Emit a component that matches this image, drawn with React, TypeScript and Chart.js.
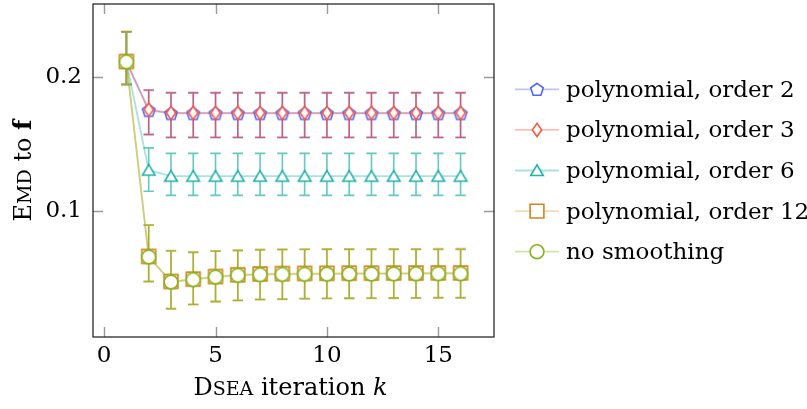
import React, { useEffect, useRef } from 'react';
import { Chart, registerables } from 'chart.js';

Chart.register(...registerables);

// ---------- data ----------
const iterations = [1, 2, 3, 4, 5, 6, 7, 8, 9, 10, 11, 12, 13, 14, 15, 16];

const seriesLabels = [
  'polynomial, order 2',
  'polynomial, order 3',
  'polynomial, order 6',
  'polynomial, order 12',
  'no smoothing',
];

const order2Mean = [0.2112, 0.1750, 0.1727, 0.1727, 0.1727, 0.1727, 0.1727, 0.1727, 0.1727, 0.1727, 0.1727, 0.1727, 0.1727, 0.1727, 0.1727, 0.1727];
const order2Upper = [0.2336, 0.1898, 0.1877, 0.1877, 0.1877, 0.1877, 0.1877, 0.1877, 0.1877, 0.1877, 0.1877, 0.1877, 0.1877, 0.1877, 0.1877, 0.1877];
const order2Lower = [0.1943, 0.1566, 0.1544, 0.1544, 0.1544, 0.1544, 0.1544, 0.1544, 0.1544, 0.1544, 0.1544, 0.1544, 0.1544, 0.1544, 0.1544, 0.1544];

const order3Mean = [0.2112, 0.1755, 0.1731, 0.1731, 0.1731, 0.1731, 0.1731, 0.1731, 0.1731, 0.1731, 0.1731, 0.1731, 0.1731, 0.1731, 0.1731, 0.1731];
const order3Upper = [0.2336, 0.1902, 0.1882, 0.1882, 0.1882, 0.1882, 0.1882, 0.1882, 0.1882, 0.1882, 0.1882, 0.1882, 0.1882, 0.1882, 0.1882, 0.1882];
const order3Lower = [0.1943, 0.1571, 0.1549, 0.1549, 0.1549, 0.1549, 0.1549, 0.1549, 0.1549, 0.1549, 0.1549, 0.1549, 0.1549, 0.1549, 0.1549, 0.1549];

const order6Mean = [0.2112, 0.1304, 0.1259, 0.1259, 0.1259, 0.1259, 0.1259, 0.1259, 0.1259, 0.1259, 0.1259, 0.1259, 0.1259, 0.1259, 0.1259, 0.1259];
const order6Upper = [0.2336, 0.1470, 0.1429, 0.1429, 0.1429, 0.1429, 0.1429, 0.1429, 0.1429, 0.1429, 0.1429, 0.1429, 0.1429, 0.1429, 0.1429, 0.1429];
const order6Lower = [0.1943, 0.1147, 0.1116, 0.1116, 0.1116, 0.1116, 0.1116, 0.1116, 0.1116, 0.1116, 0.1116, 0.1116, 0.1116, 0.1116, 0.1116, 0.1116];

const order12Mean = [0.2114, 0.0661, 0.0474, 0.0492, 0.0511, 0.0524, 0.0530, 0.0533, 0.0534, 0.0535, 0.0536, 0.0536, 0.0537, 0.0537, 0.0538, 0.0538];
const order12Upper = [0.2340, 0.0896, 0.0705, 0.0695, 0.0703, 0.0709, 0.0713, 0.0715, 0.0716, 0.0717, 0.0717, 0.0718, 0.0718, 0.0718, 0.0719, 0.0719];
const order12Lower = [0.1945, 0.0472, 0.0268, 0.0300, 0.0322, 0.0330, 0.0337, 0.0340, 0.0343, 0.0345, 0.0346, 0.0347, 0.0348, 0.0349, 0.0350, 0.0350];

const noSmoothMean = [0.2112, 0.0657, 0.0470, 0.0488, 0.0507, 0.0520, 0.0525, 0.0527, 0.0528, 0.0529, 0.0530, 0.0530, 0.0531, 0.0532, 0.0533, 0.0533];
const noSmoothUpper = [0.2336, 0.0893, 0.0701, 0.0690, 0.0699, 0.0704, 0.0709, 0.0711, 0.0712, 0.0712, 0.0712, 0.0712, 0.0712, 0.0712, 0.0712, 0.0712];
const noSmoothLower = [0.1943, 0.0475, 0.0272, 0.0304, 0.0326, 0.0334, 0.0341, 0.0343, 0.0347, 0.0349, 0.0350, 0.0351, 0.0352, 0.0353, 0.0354, 0.0354];

const seriesMeans = [order2Mean, order3Mean, order6Mean, order12Mean, noSmoothMean];
const seriesUppers = [order2Upper, order3Upper, order6Upper, order12Upper, noSmoothUpper];
const seriesLowers = [order2Lower, order3Lower, order6Lower, order12Lower, noSmoothLower];

const xTickValues = [0, 5, 10, 15];
const yTickValues = [0.1, 0.2];

// ---------- styles ----------
const FONT = "'DejaVu Serif', serif";
const FS = 23;

type Shape = 'pentagon' | 'diamond' | 'triangle' | 'square' | 'circle';
const seriesShapes: Shape[] = ['pentagon', 'diamond', 'triangle', 'square', 'circle'];
const markerColors = ['#4a66ff', '#ff553c', '#20b2aa', '#d7821a', '#84b81e'];
const lineColors = [
  'rgba(74,102,255,0.38)',
  'rgba(255,85,60,0.38)',
  'rgba(32,178,170,0.38)',
  'rgba(225,150,50,0.35)',
  'rgba(132,184,30,0.38)',
];
const errColors = [
  'rgba(110,130,255,0.45)',
  'rgba(200,70,95,0.8)',
  'rgba(32,178,170,0.7)',
  'rgba(225,160,80,0.7)',
  'rgba(150,175,30,0.8)',
];

function tracePath(ctx: CanvasRenderingContext2D, shape: Shape) {
  ctx.beginPath();
  if (shape === 'pentagon') {
    const r = 6.6;
    for (let k = 0; k < 5; k++) {
      const a = -Math.PI / 2 + (k * 2 * Math.PI) / 5;
      const px = r * Math.cos(a);
      const py = r * Math.sin(a) + 0.6;
      if (k === 0) ctx.moveTo(px, py);
      else ctx.lineTo(px, py);
    }
  } else if (shape === 'diamond') {
    ctx.moveTo(0, -6.6);
    ctx.lineTo(4.6, 0);
    ctx.lineTo(0, 6.6);
    ctx.lineTo(-4.6, 0);
  } else if (shape === 'triangle') {
    ctx.moveTo(0, -5.6);
    ctx.lineTo(6.3, 5.0);
    ctx.lineTo(-6.3, 5.0);
  } else if (shape === 'square') {
    ctx.rect(-6.9, -6.9, 13.8, 13.8);
  } else {
    ctx.arc(0, 0, 6.9, 0, Math.PI * 2);
  }
  ctx.closePath();
}

function drawMarker(ctx: CanvasRenderingContext2D, shape: Shape, x: number, y: number, color: string) {
  ctx.save();
  ctx.translate(x, y);
  tracePath(ctx, shape);
  ctx.fillStyle = '#ffffff';
  ctx.fill();
  ctx.lineWidth = 1.6;
  ctx.strokeStyle = color;
  ctx.lineJoin = 'miter';
  ctx.stroke();
  ctx.restore();
}

function makeMarkerImage(shape: Shape, color: string): HTMLCanvasElement {
  const c = document.createElement('canvas');
  c.width = 20;
  c.height = 20;
  const ctx = c.getContext('2d')!;
  drawMarker(ctx, shape, 10, 10, color);
  return c;
}

type Run = { text: string; font: string };

function drawRuns(ctx: CanvasRenderingContext2D, runs: Run[], cx: number, baseY: number) {
  let total = 0;
  const widths = runs.map((r) => {
    ctx.font = r.font;
    const w = ctx.measureText(r.text).width;
    total += w;
    return w;
  });
  let x = cx - total / 2;
  ctx.textAlign = 'left';
  ctx.textBaseline = 'alphabetic';
  runs.forEach((r, i) => {
    ctx.font = r.font;
    ctx.fillText(r.text, x, baseY);
    x += widths[i];
  });
}

const regular = `${FS}px ${FONT}`;
const smallCaps = `${Math.round(FS * 0.84)}px ${FONT}`;
const titleRegular = `${FS + 1}px ${FONT}`;
const xTitleRuns: Run[] = [
  { text: 'D', font: titleRegular },
  { text: 'SEA', font: smallCaps },
  { text: ' iteration ', font: titleRegular },
  { text: 'k', font: `italic ${FS + 1}px ${FONT}` },
];
const yTitleRuns: Run[] = [
  { text: 'E', font: titleRegular },
  { text: 'MD', font: smallCaps },
  { text: ' to ', font: titleRegular },
  { text: 'f', font: `bold ${FS + 1}px ${FONT}` },
];

const errorBarPlugin = {
  id: 'errorBars',
  beforeDatasetsDraw(chart: any) {
    const { ctx, scales } = chart;
    const xs = scales.x;
    const ys = scales.y;
    ctx.save();
    ctx.lineWidth = 1.6;
    seriesMeans.forEach((_, i) => {
      ctx.strokeStyle = errColors[i];
      iterations.forEach((it, j) => {
        const px = xs.getPixelForValue(it);
        const pu = ys.getPixelForValue(seriesUppers[i][j]);
        const pl = ys.getPixelForValue(seriesLowers[i][j]);
        ctx.beginPath();
        ctx.moveTo(px, pu);
        ctx.lineTo(px, pl);
        ctx.moveTo(px - 5.2, pu);
        ctx.lineTo(px + 5.2, pu);
        ctx.moveTo(px - 5.2, pl);
        ctx.lineTo(px + 5.2, pl);
        ctx.stroke();
      });
    });
    ctx.restore();
  },
};

const framePlugin = {
  id: 'frameTicks',
  afterDatasetsDraw(chart: any) {
    const { ctx, chartArea, scales } = chart;
    const { left, right, top, bottom } = chartArea;
    ctx.save();
    ctx.strokeStyle = '#9a9a9a';
    ctx.lineWidth = 1.4;
    const tl = 10;
    xTickValues.forEach((v) => {
      const px = Math.round(scales.x.getPixelForValue(v)) + 0.5;
      ctx.beginPath();
      ctx.moveTo(px, bottom);
      ctx.lineTo(px, bottom - tl);
      ctx.moveTo(px, top);
      ctx.lineTo(px, top + tl);
      ctx.stroke();
    });
    yTickValues.forEach((v) => {
      const py = Math.round(scales.y.getPixelForValue(v)) + 0.5;
      ctx.beginPath();
      ctx.moveTo(left, py);
      ctx.lineTo(left + tl, py);
      ctx.moveTo(right, py);
      ctx.lineTo(right - tl, py);
      ctx.stroke();
    });
    ctx.strokeStyle = '#2a2a2a';
    ctx.lineWidth = 1.3;
    ctx.strokeRect(left, top, right - left, bottom - top);
    ctx.restore();
  },
  afterDraw(chart: any) {
    const { ctx, chartArea } = chart;
    ctx.save();
    ctx.fillStyle = '#000';
    // x title
    drawRuns(ctx, xTitleRuns, (chartArea.left + chartArea.right) / 2 - 3, chartArea.bottom + 58);
    // y title
    ctx.save();
    ctx.translate(31, (chartArea.top + chartArea.bottom) / 2);
    ctx.rotate(-Math.PI / 2);
    drawRuns(ctx, yTitleRuns, 0, 0);
    ctx.restore();
    // legend
    const lx = chartArea.right + 21;
    seriesLabels.forEach((label, i) => {
      const ly = chartArea.top + 85.3 + i * 40.6;
      ctx.strokeStyle = lineColors[i];
      ctx.lineWidth = 1.8;
      ctx.beginPath();
      ctx.moveTo(lx, ly);
      ctx.lineTo(lx + 44, ly);
      ctx.stroke();
      drawMarker(ctx, seriesShapes[i], lx + 22, ly, markerColors[i]);
      ctx.font = regular;
      ctx.fillStyle = '#000';
      ctx.textAlign = 'left';
      ctx.textBaseline = 'alphabetic';
      ctx.fillText(label, lx + 51, ly + 7.5);
    });
    ctx.restore();
  },
};

export default function App() {
  const canvasRef = useRef<HTMLCanvasElement | null>(null);

  useEffect(() => {
    const canvas = canvasRef.current;
    if (!canvas) return;
    const datasets = seriesLabels.map((label, i) => ({
      label,
      data: iterations.map((it, j) => ({ x: it, y: seriesMeans[i][j] })),
      borderColor: lineColors[i],
      borderWidth: 1.8,
      pointStyle: makeMarkerImage(seriesShapes[i], markerColors[i]) as any,
      pointRadius: 7,
      pointHoverRadius: 7,
      fill: false,
      tension: 0,
      order: seriesLabels.length - i,
    }));

    const chart = new Chart(canvas, {
      type: 'line',
      data: { datasets },
      options: {
        responsive: false,
        animation: false,
        devicePixelRatio: 1,
        layout: { autoPadding: false, padding: { left: 0, top: 4, right: 313, bottom: 0 } },
        plugins: {
          legend: { display: false },
          tooltip: { enabled: false },
        },
        scales: {
          x: {
            type: 'linear',
            min: -0.5,
            max: 17.5,
            grid: { display: false, drawTicks: false },
            border: { display: false },
            afterBuildTicks: (scale: any) => {
              scale.ticks = xTickValues.map((v) => ({ value: v }));
            },
            afterFit: (scale: any) => {
              scale.height = 72;
              scale.paddingLeft = 0;
              scale.paddingRight = 0;
              scale.paddingTop = 0;
              scale.paddingBottom = 0;
            },
            ticks: {
              color: '#000',
              padding: 5,
              maxRotation: 0,
              font: { family: FONT, size: FS },
              callback: (v: any) => String(v),
            },
          },
          y: {
            type: 'linear',
            min: 0.006,
            max: 0.2543,
            grid: { display: false, drawTicks: false },
            border: { display: false },
            afterBuildTicks: (scale: any) => {
              scale.ticks = yTickValues.map((v) => ({ value: v }));
            },
            afterFit: (scale: any) => {
              scale.width = 93;
              scale.paddingLeft = 0;
              scale.paddingRight = 0;
              scale.paddingTop = 0;
              scale.paddingBottom = 0;
            },
            ticks: {
              color: '#000',
              padding: 11,
              font: { family: FONT, size: FS },
              callback: (v: any) => String(v),
            },
          },
        },
      },
      plugins: [errorBarPlugin, framePlugin],
    });
    return () => chart.destroy();
  }, []);

  return (
    <div style={{ position: 'fixed', left: 0, top: 0, width: 807, height: 409, background: '#fff' }}>
      <canvas ref={canvasRef} width={807} height={409} style={{ display: 'block', width: 807, height: 409 }} />
    </div>
  );
}
